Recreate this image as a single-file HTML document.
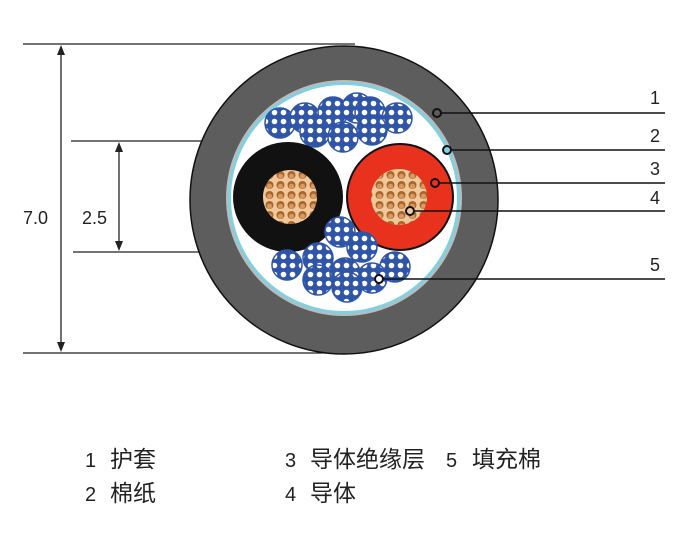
<!DOCTYPE html>
<html><head><meta charset="utf-8"><style>
html,body{margin:0;padding:0;background:#fff;}
svg{display:block;}
text{font-family:"Liberation Sans","Noto Sans CJK SC",sans-serif;fill:#222;}
</style></head><body>
<svg width="700" height="540" viewBox="0 0 700 540" xmlns="http://www.w3.org/2000/svg">
<defs>
<pattern id="dots" width="9" height="9" patternUnits="userSpaceOnUse">
<rect width="9" height="9" fill="#2f55a8"/>
<circle cx="4.5" cy="4.5" r="2.8" fill="#fff"/>
</pattern>
<pattern id="cu" width="11" height="10" patternUnits="userSpaceOnUse">
<rect width="11" height="10" fill="#f0c89a"/>
<circle cx="5.5" cy="5" r="4" fill="#a8652e"/>
<circle cx="5.5" cy="6.2" r="2.5" fill="#d89a60"/>
</pattern>
</defs>
<g stroke="#222" stroke-width="1.3" fill="none">
<line x1="23" y1="44" x2="355" y2="44"/>
<line x1="23" y1="353" x2="355" y2="353"/>
<line x1="71" y1="141" x2="290" y2="141"/>
<line x1="73" y1="252" x2="290" y2="252"/>
<line x1="61" y1="52" x2="61" y2="346"/>
<line x1="119" y1="149" x2="119" y2="244"/>
</g>
<g fill="#222">
<path d="M61,45 L57,55 L65,55 Z"/><path d="M61,352 L57,342 L65,342 Z"/>
<path d="M119,142 L115,152 L123,152 Z"/><path d="M119,251 L115,241 L123,241 Z"/>
</g>
<text x="23" y="224" font-size="18">7.0</text>
<text x="82" y="224" font-size="18">2.5</text>
<circle cx="344" cy="200" r="154" fill="#5d5d5d" stroke="#111" stroke-width="1.5"/>
<circle cx="344" cy="198" r="118" fill="#bbb"/>
<circle cx="344" cy="198" r="116" fill="#7fd0e0"/>
<circle cx="344" cy="198" r="113" fill="#fff"/>
<g stroke="#2f55a8" stroke-width="1.5" fill="url(#dots)">
<circle cx="280" cy="123" r="15"/><circle cx="305" cy="118" r="15"/><circle cx="333" cy="112" r="15"/>
<circle cx="357" cy="108" r="15"/><circle cx="370" cy="112" r="15"/><circle cx="397" cy="118" r="15"/>
<circle cx="315" cy="132" r="15"/><circle cx="343" cy="137" r="15"/><circle cx="372" cy="130" r="15"/>
</g>
<circle cx="288" cy="197" r="55" fill="#111"/>
<circle cx="290" cy="197" r="27" fill="url(#cu)"/>
<circle cx="400" cy="197" r="54" fill="#111"/>
<circle cx="400" cy="197" r="52" fill="#e8321e"/>
<circle cx="399" cy="197" r="28" fill="url(#cu)"/>
<g stroke="#2f55a8" stroke-width="1.5" fill="url(#dots)">
<circle cx="340" cy="232" r="15"/><circle cx="362" cy="247" r="15"/><circle cx="287" cy="265" r="15"/>
<circle cx="318" cy="258" r="15"/><circle cx="395" cy="267" r="15"/><circle cx="372" cy="278" r="15"/>
<circle cx="318" cy="280" r="15"/><circle cx="345" cy="273" r="15"/><circle cx="347" cy="287" r="15"/>
</g>
<g stroke="#111" stroke-width="1.5">
<line x1="441" y1="113" x2="665" y2="113"/>
<line x1="451" y1="150" x2="665" y2="150"/>
<line x1="439" y1="183" x2="665" y2="183"/>
<line x1="414" y1="211" x2="665" y2="211"/>
<line x1="383" y1="279" x2="665" y2="279"/>
</g>
<g stroke="#111" stroke-width="2">
<circle cx="437" cy="113" r="4" fill="#5d5d5d"/>
<circle cx="447" cy="150" r="4" fill="#7fd0e0"/>
<circle cx="435" cy="183" r="4" fill="#e8321e"/>
<circle cx="410" cy="211" r="4" fill="#f0c89a"/>
<circle cx="379" cy="279" r="4" fill="#fff"/>
</g>
<g font-size="18">
<text x="650" y="104">1</text>
<text x="650" y="142">2</text>
<text x="650" y="175">3</text>
<text x="650" y="204">4</text>
<text x="650" y="271">5</text>
</g>
<g font-size="20">
<text x="85" y="467">1</text><text x="110" y="467" font-size="23">护套</text>
<text x="285" y="467">3</text><text x="310" y="467" font-size="23">导体绝缘层</text>
<text x="446" y="467">5</text><text x="472" y="467" font-size="23">填充棉</text>
<text x="85" y="501">2</text><text x="110" y="501" font-size="23">棉纸</text>
<text x="285" y="501">4</text><text x="310" y="501" font-size="23">导体</text>
</g>
</svg>
</body></html>
